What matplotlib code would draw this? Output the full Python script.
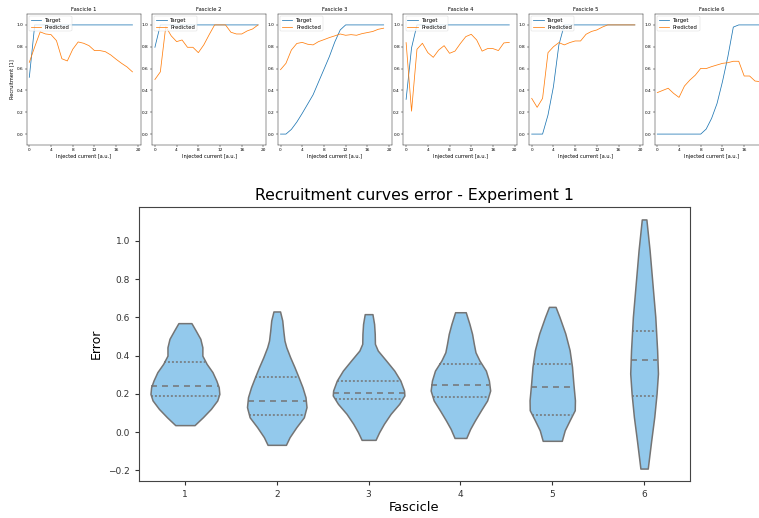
import numpy as np
import matplotlib
matplotlib.use("Agg")
import matplotlib.pyplot as plt

# ---------------- recruitment curves (top row) ----------------
current = [0, 1, 2, 3, 4, 5, 6, 7, 8, 9, 10, 11, 12, 13, 14, 15, 16, 17, 18, 19]

target_1 = [0.52, 1.0, 1.0, 1.0, 1.0, 1.0, 1.0, 1.0, 1.0, 1.0, 1.0, 1.0, 1.0, 1.0, 1.0, 1.0, 1.0, 1.0, 1.0, 1.0]
target_2 = [0.795, 1.0, 1.0, 1.0, 1.0, 1.0, 1.0, 1.0, 1.0, 1.0, 1.0, 1.0, 1.0, 1.0, 1.0, 1.0, 1.0, 1.0, 1.0, 1.0]
target_3 = [0.0, 0.0, 0.043, 0.11, 0.19, 0.275, 0.36, 0.477, 0.593, 0.71, 0.844, 0.954, 1.0, 1.0, 1.0, 1.0, 1.0, 1.0, 1.0, 1.0]
target_4 = [0.318, 0.79, 1.0, 1.0, 1.0, 1.0, 1.0, 1.0, 1.0, 1.0, 1.0, 1.0, 1.0, 1.0, 1.0, 1.0, 1.0, 1.0, 1.0, 1.0]
target_5 = [0.0, 0.0, 0.0, 0.175, 0.434, 0.816, 1.0, 1.0, 1.0, 1.0, 1.0, 1.0, 1.0, 1.0, 1.0, 1.0, 1.0, 1.0, 1.0, 1.0]
target_6 = [0.0, 0.0, 0.0, 0.0, 0.0, 0.0, 0.0, 0.0, 0.0, 0.046, 0.144, 0.28, 0.48, 0.71, 0.98, 1.0, 1.0, 1.0, 1.0, 1.0]

predicted_1 = [0.657, 0.80, 0.936, 0.917, 0.911, 0.856, 0.69, 0.67, 0.777, 0.844, 0.832, 0.81, 0.765, 0.765, 0.755, 0.725, 0.685, 0.648, 0.615, 0.57]
predicted_2 = [0.50, 0.57, 0.985, 0.90, 0.847, 0.862, 0.795, 0.795, 0.746, 0.817, 0.911, 1.0, 1.0, 1.0, 0.933, 0.917, 0.917, 0.945, 0.963, 1.0]
predicted_3 = [0.59, 0.648, 0.77, 0.83, 0.84, 0.823, 0.817, 0.847, 0.865, 0.884, 0.90, 0.917, 0.905, 0.911, 0.905, 0.92, 0.93, 0.94, 0.96, 0.97]
predicted_4 = [0.838, 0.21, 0.777, 0.832, 0.746, 0.703, 0.77, 0.81, 0.74, 0.76, 0.83, 0.893, 0.914, 0.862, 0.76, 0.783, 0.783, 0.765, 0.835, 0.84]
predicted_5 = [0.327, 0.245, 0.327, 0.746, 0.80, 0.838, 0.817, 0.838, 0.853, 0.853, 0.914, 0.94, 0.954, 0.98, 1.0, 1.0, 1.0, 1.0, 1.0, 1.0]
predicted_6 = [0.38, 0.40, 0.42, 0.373, 0.336, 0.44, 0.495, 0.54, 0.602, 0.60, 0.618, 0.633, 0.648, 0.654, 0.667, 0.667, 0.532, 0.532, 0.486, 0.48]

targets = [target_1, target_2, target_3, target_4, target_5, target_6]
predictions = [predicted_1, predicted_2, predicted_3, predicted_4, predicted_5, predicted_6]
fascicle_names = ["Fascicle 1", "Fascicle 2", "Fascicle 3", "Fascicle 4", "Fascicle 5", "Fascicle 6"]
current_ticks = [0, 4, 8, 12, 16, 20]

# ---------------- error distributions (violins) ----------------
fascicles = [1, 2, 3, 4, 5, 6]

# density profiles: error levels and half-widths of each violin
err_levels_1 = [0.037, 0.078, 0.122, 0.166, 0.20, 0.235, 0.270, 0.314, 0.357, 0.40, 0.444, 0.488, 0.531, 0.570]
half_width_1 = [0.105, 0.195, 0.283, 0.352, 0.375, 0.368, 0.342, 0.30, 0.237, 0.19, 0.19, 0.168, 0.118, 0.071]
err_levels_2 = [-0.066, -0.026, 0.026, 0.078, 0.131, 0.183, 0.235, 0.288, 0.34, 0.392, 0.444, 0.479, 0.531, 0.584, 0.631]
half_width_2 = [0.10, 0.14, 0.213, 0.295, 0.324, 0.313, 0.28, 0.237, 0.193, 0.146, 0.104, 0.084, 0.071, 0.06, 0.036]
err_levels_3 = [-0.040, 0.0, 0.044, 0.096, 0.148, 0.192, 0.218, 0.27, 0.322, 0.375, 0.427, 0.462, 0.514, 0.566, 0.617]
half_width_3 = [0.076, 0.115, 0.167, 0.24, 0.333, 0.39, 0.386, 0.346, 0.28, 0.19, 0.1, 0.069, 0.067, 0.06, 0.042]
err_levels_4 = [-0.030, 0.017, 0.061, 0.113, 0.166, 0.218, 0.27, 0.322, 0.375, 0.418, 0.462, 0.514, 0.566, 0.627]
half_width_4 = [0.064, 0.106, 0.157, 0.222, 0.291, 0.324, 0.31, 0.277, 0.207, 0.164, 0.146, 0.127, 0.098, 0.058]
err_levels_5 = [-0.045, 0.010, 0.063, 0.115, 0.167, 0.254, 0.342, 0.429, 0.516, 0.603, 0.655]
half_width_5 = [0.104, 0.136, 0.19, 0.245, 0.247, 0.23, 0.215, 0.189, 0.142, 0.078, 0.036]
err_levels_6 = [-0.190, -0.042, 0.080, 0.202, 0.307, 0.429, 0.603, 0.777, 0.951, 1.112]
half_width_6 = [0.04, 0.078, 0.111, 0.136, 0.151, 0.142, 0.122, 0.091, 0.06, 0.025]

# 25th, 50th, 75th percentiles of the error
quartiles_1 = [0.190, 0.239, 0.369]
quartiles_2 = [0.091, 0.162, 0.291]
quartiles_3 = [0.176, 0.206, 0.267]
quartiles_4 = [0.185, 0.247, 0.354]
quartiles_5 = [0.089, 0.237, 0.359]
quartiles_6 = [0.188, 0.375, 0.528]

err_levels = [err_levels_1, err_levels_2, err_levels_3, err_levels_4, err_levels_5, err_levels_6]
half_widths = [half_width_1, half_width_2, half_width_3, half_width_4, half_width_5, half_width_6]
quartiles = [quartiles_1, quartiles_2, quartiles_3, quartiles_4, quartiles_5, quartiles_6]

# ---------------- figure ----------------
W, H = 759, 518
fig = plt.figure(figsize=(W / 100, H / 100), dpi=100)


def px_axes(left, top, width, height):
    return fig.add_axes([left / W, 1 - (top + height) / H, width / W, height / H])


small_lw = 0.3
for i in range(6):
    ax = px_axes(26.6 + i * 125.6, 14, 114, 131)
    ax.plot(current, targets[i], color="#1f77b4", lw=0.55, label="Target")
    ax.plot(current, predictions[i], color="#ff7f0e", lw=0.55, label="Predicted")
    ax.set_xlim(-0.5, 20.5)
    ax.set_ylim(-0.1, 1.1)
    # the last panel runs past the right edge of the figure
    ax.set_xticks(current_ticks if i < 5 else current_ticks[:-1])
    ax.set_yticks([0.0, 0.2, 0.4, 0.6, 0.8, 1.0])
    ax.tick_params(labelsize=3.1, length=1.3, width=small_lw, pad=1.2)
    for s in ax.spines.values():
        s.set_linewidth(small_lw)
    ax.set_title(fascicle_names[i], fontsize=3.8, pad=2.5)
    ax.set_xlabel("Injected current [a.u.]", fontsize=3.6, labelpad=1.2)
    if i == 0:
        ax.set_ylabel("Recruitment [1]", fontsize=3.6, labelpad=1.5)
    leg = ax.legend(loc="upper left", fontsize=3.8, handlelength=2.0,
                    borderpad=0.35, labelspacing=0.3, handletextpad=0.7,
                    borderaxespad=0.4)
    leg.get_frame().set_linewidth(0.3)

# violin panel
ax = px_axes(139, 207, 551, 274)
fill_color = "#93C9EC"
edge_color = "#747474"
lw = 1.1

stats = []
for lv, hw in zip(err_levels, half_widths):
    lv = np.asarray(lv)
    hw = np.asarray(hw)
    stats.append(dict(coords=lv, vals=hw, mean=float(np.mean(lv)),
                      median=float(np.median(lv)), min=float(lv.min()), max=float(lv.max())))

widths = [2 * max(hw) for hw in half_widths]
parts = ax.violin(stats, positions=fascicles, widths=widths,
                  showmeans=False, showextrema=False, showmedians=False)
for body in parts["bodies"]:
    body.set_facecolor(fill_color)
    body.set_edgecolor(edge_color)
    body.set_linewidth(lw)
    body.set_alpha(1)

for pos, lv, hw, q in zip(fascicles, err_levels, half_widths, quartiles):
    for k, val in enumerate(q):
        w = np.interp(val, lv, hw)
        style = (0, (3.9, 3.3)) if k == 1 else (0, (1.3, 1.3))
        ax.plot([pos - w, pos + w], [val, val], color=edge_color, lw=lw,
                linestyle=style, zorder=3)

ax.set_xlim(0.5, 6.5)
ax.set_ylim(-0.255, 1.177)
ax.set_xticks(fascicles)
ax.set_xticklabels([str(f) for f in fascicles])
ax.set_yticks([-0.2, 0.0, 0.2, 0.4, 0.6, 0.8, 1.0])
ax.tick_params(labelsize=6.5, length=3, width=0.8, colors="#333333")
for s in ax.spines.values():
    s.set_color("#444444")
ax.set_xlabel("Fascicle", fontsize=9.4, labelpad=1.5)
ax.set_ylabel("Error", fontsize=9.0, labelpad=4)
ax.set_title("Recruitment curves error - Experiment 1", fontsize=11.3, pad=5)

fig.savefig("out.png", dpi=100)
